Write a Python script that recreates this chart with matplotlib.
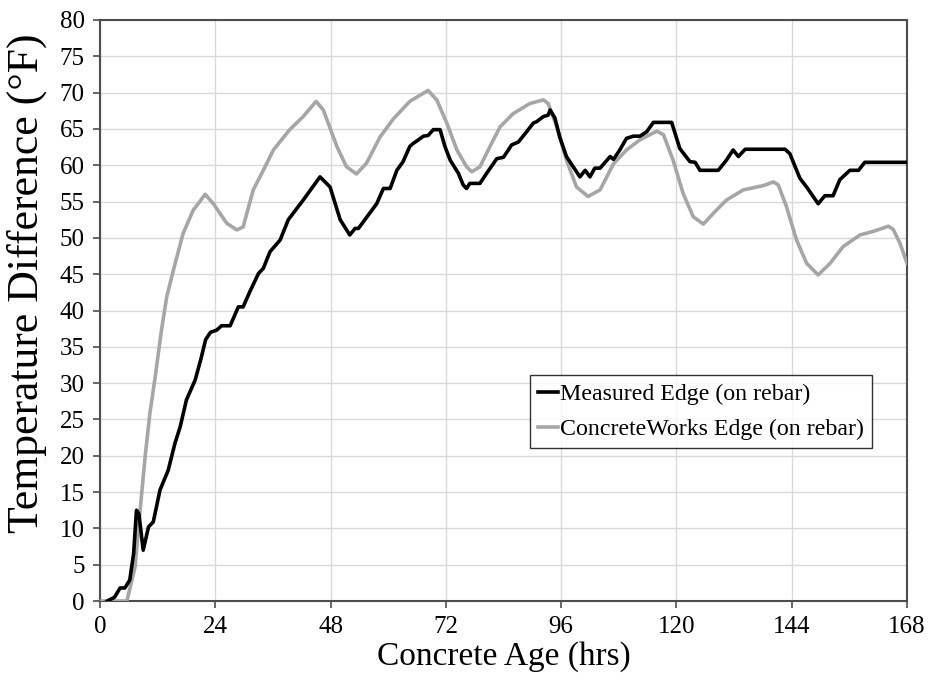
import matplotlib.pyplot as plt

plt.rcParams['font.family'] = ['Liberation Serif', 'DejaVu Serif']

# Measured Edge (on rebar)
measured_hrs = [1.5, 3.0, 4.2, 5.2, 6.2, 7.0, 7.6, 8.1, 9.0, 10.1, 11.1, 12.5, 14.2, 15.6,
                16.7, 18.0, 19.8, 21.0, 22.0, 23.0, 24.3, 25.3, 27.1, 28.8, 29.8, 31.2,
                33.0, 34.0, 35.4, 37.5, 39.2, 42.3, 45.8, 47.9, 50.0, 52.0, 53.1, 53.8,
                57.6, 59.0, 60.4, 61.8, 63.1, 64.5, 65.2, 66.3, 67.3, 68.3, 69.4, 70.8,
                71.8, 72.9, 74.6, 75.6, 76.3, 77.0, 79.1, 80.5, 82.6, 84.0, 85.7, 87.1,
                88.8, 90.2, 90.9, 92.3, 93.3, 93.7, 94.7, 95.7, 97.1, 98.5, 99.9, 101.0,
                102.0, 103.0, 104.1, 106.2, 106.9, 108.2, 109.6, 111.0, 112.4, 113.8,
                115.2, 119.0, 120.7, 122.8, 123.9, 124.9, 128.7, 130.4, 131.8, 132.9,
                134.3, 142.6, 143.6, 145.7, 147.1, 149.5, 150.9, 152.6, 154.0, 156.1,
                157.9, 159.2, 168.0]
measured_temp = [0.0, 0.5, 1.8, 1.8, 2.9, 6.5, 12.5, 12.0, 7.0, 10.2, 10.9, 15.3, 18.0, 21.7,
                 24.0, 27.7, 30.4, 33.3, 36.0, 37.0, 37.3, 37.9, 37.9, 40.5, 40.5, 42.6,
                 45.1, 45.8, 48.1, 49.7, 52.5, 55.2, 58.4, 57.0, 52.5, 50.4, 51.3, 51.3,
                 54.7, 56.8, 56.8, 59.3, 60.5, 62.6, 63.0, 63.5, 64.0, 64.1, 64.9, 64.9,
                 62.6, 60.7, 58.9, 57.3, 56.8, 57.5, 57.5, 58.9, 60.9, 61.1, 62.8, 63.2,
                 64.6, 65.8, 66.0, 66.7, 66.9, 67.6, 66.5, 63.9, 61.2, 59.8, 58.4, 59.3,
                 58.4, 59.6, 59.6, 61.2, 60.8, 62.1, 63.7, 64.0, 64.0, 64.6,
                 65.9, 65.9, 62.3, 60.5, 60.4, 59.3, 59.3, 60.7, 62.1, 61.2,
                 62.2, 62.2, 61.6, 58.2, 57.0, 54.7, 55.8, 55.8, 58.0, 59.3,
                 59.3, 60.4, 60.4]

# ConcreteWorks Edge (on rebar)
cw_hrs = [0.0, 5.6, 7.3, 8.3, 9.4, 10.4, 11.4, 12.8, 13.9, 15.3, 17.3, 19.4, 21.9, 23.6,
          26.4, 28.5, 29.8, 31.9, 34.0, 36.1, 39.5, 42.3, 45.0, 46.5, 49.3, 51.3, 53.4,
          55.5, 58.3, 61.1, 64.5, 68.3, 70.1, 72.2, 74.3, 76.3, 77.4, 79.1, 81.2, 83.3,
          86.0, 89.5, 92.3, 93.3, 95.1, 97.1, 99.2, 101.6, 104.1, 106.9, 109.6, 112.4,
          115.9, 117.3, 119.3, 121.4, 123.5, 125.6, 127.7, 130.4, 133.9, 138.1, 140.2,
          141.2, 142.9, 145.0, 147.1, 149.5, 152.0, 154.7, 158.2, 161.0, 164.1, 165.1,
          166.5, 168.0]
cw_temp = [0.0, 0.0, 4.7, 12.1, 19.9, 25.9, 30.4, 37.3, 41.9, 45.6, 50.6, 53.8, 56.0, 54.7,
           52.0, 51.1, 51.5, 56.6, 59.3, 62.1, 64.9, 66.7, 68.8, 67.6, 62.6, 59.8, 58.8,
           60.3, 63.9, 66.4, 68.8, 70.3, 69.0, 65.8, 62.1, 59.8, 59.1, 59.8, 62.6, 65.3,
           67.1, 68.5, 69.0, 68.5, 65.3, 60.7, 57.0, 55.7, 56.6, 60.2, 62.1, 63.5,
           64.7, 64.2, 60.7, 56.1, 52.9, 51.9, 53.4, 55.2, 56.6, 57.2, 57.7,
           57.3, 54.3, 49.7, 46.5, 44.9, 46.5, 48.8, 50.4, 50.9, 51.6, 51.2,
           49.3, 46.5]

x_ticks = list(range(0, 169, 24))
y_ticks = list(range(0, 81, 5))

fig = plt.figure(figsize=(9.3, 6.84), dpi=100)
ax = fig.add_axes([0.1075, 0.1213, 0.8678, 0.8495])

ax.plot(cw_hrs, cw_temp, color='#A6A6A6', lw=2.6, label='ConcreteWorks Edge (on rebar)', zorder=3)
ax.plot(measured_hrs, measured_temp, color='black', lw=2.6, label='Measured Edge (on rebar)', zorder=4)

ax.set_xlim(0, 168)
ax.set_ylim(0, 80)
ax.set_xticks(x_ticks)
ax.set_yticks(y_ticks)
ax.grid(True, color='#D9D9D9', lw=1)
ax.set_axisbelow(True)
for s in ax.spines.values():
    s.set_color('#4D4D4D')
    s.set_linewidth(1.5)
ax.tick_params(direction='out', length=5, width=1.2, color='#4D4D4D', labelsize=18, pad=6)

ax.set_xlabel('Concrete Age (hrs)', fontsize=24, labelpad=2)
# y label placed on the figure, it sits a bit above the axes centre
fig.text(27 / 930, 1 - 283 / 684, 'Temperature Difference (\u00b0F)', fontsize=31.5,
         rotation=90, ha='center', va='center')

handles, labels = ax.get_legend_handles_labels()
leg = ax.legend(handles[::-1], labels[::-1], loc='upper left', bbox_to_anchor=(0.533, 0.389),
                fontsize=17.2, frameon=True, fancybox=False, edgecolor='black',
                handlelength=0.8, handletextpad=0.1, borderpad=0.35, borderaxespad=0,
                labelspacing=0.55)
leg.get_frame().set_linewidth(1)

fig.savefig('out.png', dpi=100)
